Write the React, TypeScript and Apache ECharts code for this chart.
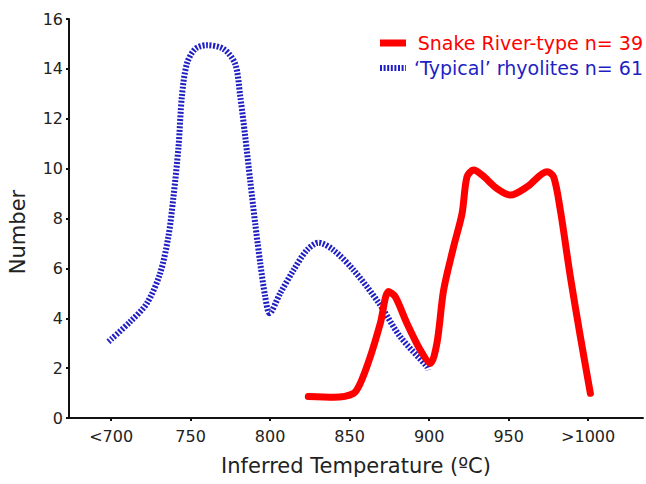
import React, { useEffect, useRef } from "react";
import * as echarts from "echarts";

const xTickValues = [700, 750, 800, 850, 900, 950, 1000];
const xTickLabels = ["<700", "750", "800", "850", "900", "950", ">1000"];

const snakeName = "Snake River-type n= 39";
const typicalName = "\u2018Typical\u2019 rhyolites n= 61";

const snakeX = [824, 840, 852.5, 856.7, 863, 869.3, 874.5, 878.7, 886, 894.4, 900.7, 904.9, 909.1, 915.4, 920.7, 923.8, 928, 933.3, 942.7, 951.1, 961.6, 974.2, 978.3, 982.5, 988.8, 995.1, 1001.4];
const snakeY = [0.86, 0.83, 0.99, 1.39, 2.46, 3.8, 5.07, 4.86, 3.8, 2.73, 2.19, 3.0, 5.13, 6.87, 8.2, 9.67, 9.94, 9.74, 9.2, 8.94, 9.27, 9.87, 9.67, 8.34, 5.67, 3.26, 0.99];

const typicalX = [698.3, 712, 722.5, 730.8, 736, 739.2, 742.4, 744.5, 747.6, 752.9, 760.2, 770.7, 778, 781.2, 784.3, 787.5, 790.6, 793.8, 796.9, 799.6, 806.3, 814.7, 823.1, 830.4, 839.9, 852.5, 868.5, 881.8, 898.6, 899.5];
const typicalY = [3.06, 3.86, 4.6, 5.8, 7.27, 8.87, 10.9, 12.9, 14.2, 14.8, 14.95, 14.8, 14.2, 12.9, 11.3, 9.5, 7.8, 6.2, 4.86, 4.2, 5.0, 5.93, 6.73, 7.03, 6.73, 5.93, 4.6, 3.26, 2.06, 1.92];

const FONT = "DejaVu Sans, Verdana, sans-serif";
const RED = "#ff0000";
const BLUE = "#1f1fc4";

export default function App() {
  const ref = useRef<HTMLDivElement>(null);
  useEffect(() => {
    if (!ref.current) return;
    const chart = echarts.init(ref.current, null, { renderer: "svg" });
    chart.setOption({
      animation: false,
      backgroundColor: "#ffffff",
      grid: { left: 69, right: 3, top: 19, bottom: 66 },
      graphic: [
        {
          type: "line",
          shape: { x1: 380, y1: 43, x2: 406, y2: 43 },
          style: { stroke: RED, lineWidth: 7 },
        },
        {
          type: "text",
          x: 643,
          y: 43,
          style: { text: snakeName, fill: RED, font: `19px ${FONT}`, align: "right", verticalAlign: "middle" },
        },
        {
          type: "line",
          shape: { x1: 380, y1: 68, x2: 406, y2: 68 },
          style: { stroke: BLUE, lineWidth: 6, lineDash: [2, 1.6] },
        },
        {
          type: "text",
          x: 643,
          y: 68,
          style: { text: typicalName, fill: BLUE, font: `19px ${FONT}`, align: "right", verticalAlign: "middle" },
        },
        {
          type: "text",
          x: 18,
          y: 232,
          rotation: Math.PI / 2,
          style: { text: "Number", fill: "#222", font: `21px ${FONT}`, align: "center", verticalAlign: "middle" },
        },
      ],
      xAxis: {
        type: "value",
        min: 673.5,
        max: 1034.5,
        name: "Inferred Temperature (\u00baC)",
        nameLocation: "middle",
        nameGap: 37,
        nameTextStyle: { fontFamily: FONT, fontSize: 21, color: "#222" },
        splitLine: { show: false },
        axisLine: { lineStyle: { color: "#111", width: 2 } },
        axisTick: { customValues: xTickValues, length: 3, lineStyle: { color: "#111", width: 2 } },
        axisLabel: {
          customValues: xTickValues,
          fontFamily: FONT,
          fontSize: 16,
          color: "#222",
          margin: 10,
          formatter: (v: number) => xTickLabels[xTickValues.indexOf(v)] ?? String(v),
        },
      },
      yAxis: {
        type: "value",
        min: 0,
        max: 16,
        interval: 2,
        splitLine: { show: false },
        axisLine: { show: true, lineStyle: { color: "#111", width: 2 } },
        axisTick: { show: true, length: 3, lineStyle: { color: "#111", width: 2 } },
        axisLabel: { fontFamily: FONT, fontSize: 16, color: "#222", margin: 6 },
      },
      series: [
        {
          name: snakeName,
          type: "line",
          smooth: 0.3,
          symbol: "none",
          z: 3,
          lineStyle: { color: RED, width: 7, cap: "round", join: "round" },
          itemStyle: { color: RED },
          data: snakeX.map((x, i) => [x, snakeY[i]]),
        },
        {
          name: typicalName,
          type: "line",
          smooth: 0.3,
          symbol: "none",
          z: 2,
          lineStyle: { color: BLUE, width: 6, type: [2, 1.6], cap: "butt", join: "round" },
          itemStyle: { color: BLUE },
          data: typicalX.map((x, i) => [x, typicalY[i]]),
        },
      ],
    });
    return () => chart.dispose();
  }, []);
  return <div ref={ref} style={{ width: 646, height: 484, position: "absolute", left: 0, top: 0 }} />;
}
